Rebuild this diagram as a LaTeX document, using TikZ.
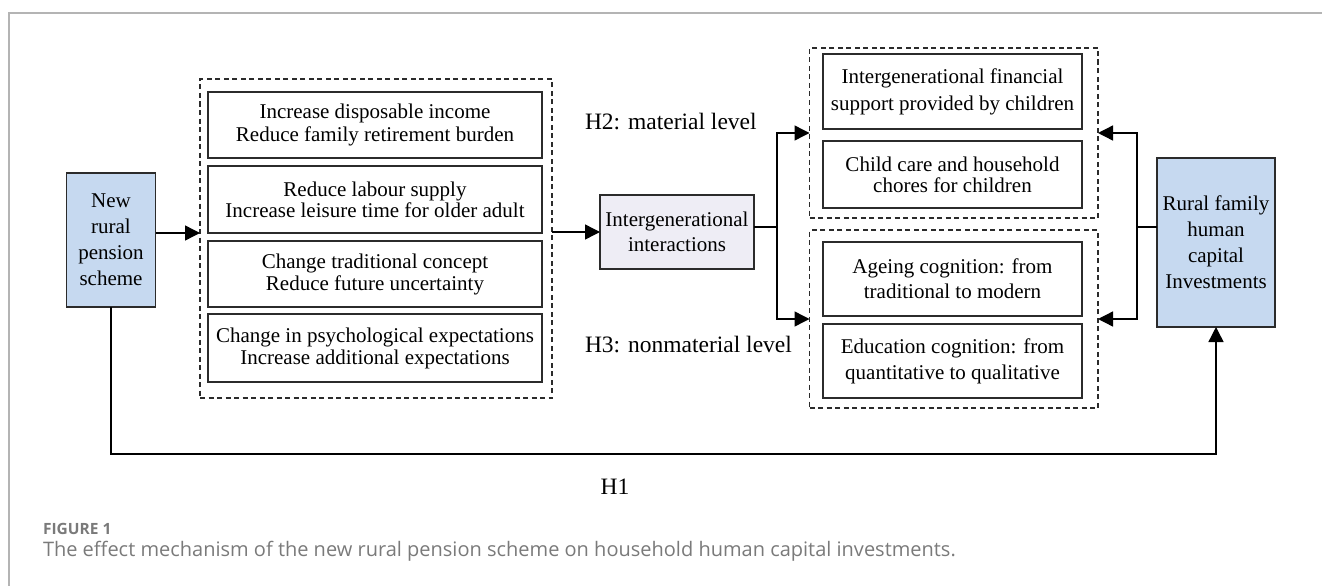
\documentclass[tikz,border=0pt]{standalone}
\usepackage{fontspec}
\setmainfont{Liberation Serif}
\newfontfamily\capfont{Open Sans}
\usetikzlibrary{arrows.meta,calc}
\definecolor{boxline}{HTML}{2B2B2B}
\definecolor{blueFill}{HTML}{C6D9F0}
\definecolor{lavFill}{HTML}{EEEDF5}
\definecolor{frameGray}{HTML}{B4B4B4}
\definecolor{capGray}{HTML}{7A7A7A}
\begin{document}
\begin{tikzpicture}[x=1pt,y=-1pt,
  every node/.style={inner sep=0pt,outer sep=0pt},
  txtbox/.style={draw=boxline,line width=1.2pt,rectangle,align=center,fill=white},
  bluebox/.style={txtbox,fill=blueFill},
  lavbox/.style={txtbox,fill=lavFill},
  dashbox/.style={draw=boxline,line width=1.1pt,dash pattern=on 5pt off 3.5pt,rectangle},
  conn/.style={draw=black,line width=1.4pt},
  arr/.style={conn,-{Triangle[length=15pt,width=15pt]}},
  hlabel/.style={font=\fontsize{23.5}{26}\selectfont}
]
\useasboundingbox (0,0) rectangle (1322,586);
% card frame
\draw[frameGray,line width=1.5pt] (9,586) -- (9,13) -- (1322,13);

% source box
\node[bluebox,minimum width=89pt,minimum height=134pt,font=\fontsize{21}{26}\selectfont] (nrp) at (111,240)
  {New\\rural\\pension\\scheme};

% left group of mechanisms
\node[dashbox,minimum width=352pt,minimum height=319pt] (ldash) at (376,238.5) {};
\node[txtbox,minimum width=334pt,minimum height=66pt,font=\fontsize{21}{23}\selectfont] (b1) at (375,125)
  {Increase disposable income\\Reduce family retirement burden};
\node[txtbox,minimum width=334pt,minimum height=67pt,font=\fontsize{21}{21}\selectfont] (b2) at (375,199.5)
  {Reduce labour supply\\Increase leisure time for older adult};
\node[txtbox,minimum width=334pt,minimum height=66pt,font=\fontsize{21}{22}\selectfont] (b3) at (375,274)
  {Change traditional concept\\Reduce future uncertainty};
\node[txtbox,minimum width=334pt,minimum height=68pt,font=\fontsize{21}{22}\selectfont] (b4) at (375,348)
  {Change in psychological expectations\\Increase additional expectations};

% mediator
\node[lavbox,minimum width=154pt,minimum height=74pt,font=\fontsize{21}{25}\selectfont] (ig) at (677,232)
  {Intergenerational\\interactions};

% right groups
\node[dashbox,minimum width=288.5pt,minimum height=170pt] (udash) at (953.75,133) {};
\node[dashbox,minimum width=288.5pt,minimum height=178pt] (ddash) at (953.75,319) {};
\node[txtbox,minimum width=259pt,minimum height=75pt,font=\fontsize{21}{27}\selectfont] (r1) at (952.5,91.5)
  {Intergenerational financial\\support provided by children};
\node[txtbox,minimum width=259pt,minimum height=67pt,font=\fontsize{21}{21}\selectfont] (r2) at (952.5,174.5)
  {Child care and household\\chores for children};
\node[txtbox,minimum width=259pt,minimum height=74pt,font=\fontsize{21}{25}\selectfont] (r3) at (952.5,279)
  {Ageing cognition: from\\traditional to modern};
\node[txtbox,minimum width=259pt,minimum height=74pt,font=\fontsize{21}{26}\selectfont] (r4) at (952.5,361)
  {Education cognition: from\\quantitative to qualitative};

% outcome box
\node[bluebox,minimum width=118pt,minimum height=169pt,font=\fontsize{21}{26}\selectfont] (rb) at (1216,242.5)
  {Rural family\\human\\capital\\Investments};

% hypothesis labels
\node[hlabel,anchor=west] (h2) at (585,122) {H2: material level};
\node[hlabel,anchor=west] (h3) at (585,345) {H3: nonmaterial level};
\node[hlabel] (h1) at (615,487) {H1};

% connectors
\coordinate (jl) at (777,227);
\coordinate (jr) at (1137,227);
\coordinate (bot) at (111,454);

\draw[arr] (nrp.east |- b2.south) -- (ldash.west |- b2.south);
\draw[arr] (ldash.east |- ig.west) -- (ig.west);
\draw[conn] (ig.east |- jl) -- (jl);
\draw[arr] (jl) |- (udash.west);
\draw[arr] (jl) |- (ddash.west);
\draw[conn] (rb.west |- jr) -- (jr);
\draw[arr] (jr) |- (udash.east);
\draw[arr] (jr) |- (ddash.east);
\draw[arr] (nrp.south) -- (bot) -| (rb.south);

% caption
\node[anchor=west,text=capGray,font=\capfont\bfseries\fontsize{15.5}{18}\selectfont] (figno) at (43,529) {FIGURE 1};
\node[anchor=west,text=capGray,font=\capfont\fontsize{20}{23}\selectfont] (cap) at (43,551)
  {The effect mechanism of the new rural pension scheme on household human capital investments.};
\end{tikzpicture}
\end{document}
